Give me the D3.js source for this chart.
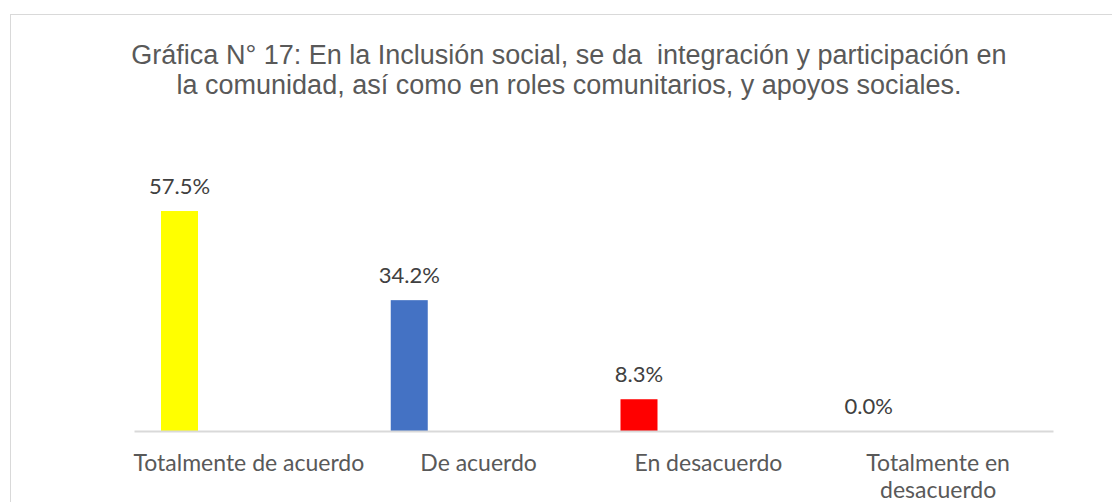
<!DOCTYPE html>
<html>
<head>
<meta charset="utf-8">
<script src="https://cdn.jsdelivr.net/npm/d3@7"></script>
<style>
  html, body { margin: 0; padding: 0; background: #fff; }
  svg { display: block; }
</style>
</head>
<body>
<svg id="chart" width="1112" height="502"></svg>
<script>
const titleLines = [
  "Gráfica N° 17: En la Inclusión social, se da  integración y participación en",
  "la comunidad, así como en roles comunitarios, y apoyos sociales."
];
const categories = ["Totalmente de acuerdo", "De acuerdo", "En desacuerdo", "Totalmente en desacuerdo"];
const categoryLines = [["Totalmente de acuerdo"], ["De acuerdo"], ["En desacuerdo"], ["Totalmente en", "desacuerdo"]];
const values = [57.5, 34.2, 8.3, 0.0];
const barColors = ["#FFFF00", "#4472C4", "#FF0000", "#A5A5A5"];

const svg = d3.select("#chart");
const labelFont = "Lato, 'Open Sans', sans-serif";

// chart border
svg.append("rect")
  .attr("x", 10.5).attr("y", 14.5)
  .attr("width", 1130).attr("height", 520)
  .attr("fill", "#fff").attr("stroke", "#d9d9d9").attr("stroke-width", 1);

// title
const title = svg.append("text")
  .attr("text-anchor", "middle")
  .attr("font-family", "'Liberation Sans', Arial, sans-serif")
  .attr("font-size", 27)
  .attr("fill", "#595959")
  .style("white-space", "pre");
titleLines.forEach((t, i) => {
  title.append("tspan").attr("x", 569).attr("y", 64 + i * 30).text(t);
});

const x = d3.scaleBand().domain(categories).range([134, 1053]).paddingInner(0).paddingOuter(0);
const y = d3.scaleLinear().domain([0, 70]).range([431, 163.2]);
const barW = 37;
const barOffset = 27; // bar start within its band

// bars
svg.append("g").selectAll("rect")
  .data(values)
  .join("rect")
  .attr("x", (d, i) => x(categories[i]) + barOffset)
  .attr("y", d => y(d))
  .attr("width", barW)
  .attr("height", d => y(0) - y(d))
  .attr("fill", (d, i) => barColors[i]);

// axis line
const axis = svg.append("g").attr("transform", `translate(0,${y(0)})`)
  .call(d3.axisBottom(x).tickSize(0).tickFormat(""));
axis.select(".domain").attr("stroke", "#d9d9d9").attr("stroke-width", 2);

// category labels
categories.forEach((c, i) => {
  const t = svg.append("text")
    .attr("text-anchor", "middle")
    .attr("font-family", labelFont)
    .attr("font-size", 23)
    .attr("fill", "#595959");
  categoryLines[i].forEach((ln, j) => {
    t.append("tspan").attr("x", x(c) + x.bandwidth() / 2).attr("y", 471 + j * 27).text(ln);
  });
});

// data labels
svg.append("g").selectAll("text")
  .data(values)
  .join("text")
  .attr("x", (d, i) => x(categories[i]) + barOffset + barW / 2)
  .attr("y", d => y(d) - 17)
  .attr("text-anchor", "middle")
  .attr("font-family", labelFont)
  .attr("font-size", 22)
  .attr("fill", "#404040")
  .text(d => d3.format(".1f")(d) + "%");
</script>
</body>
</html>
